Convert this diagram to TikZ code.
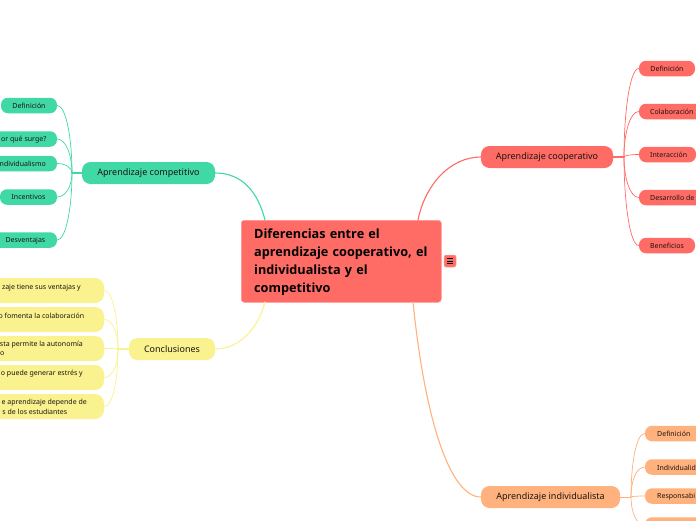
\documentclass[tikz,border=0pt]{standalone}
\usepackage{fontspec}
\usetikzlibrary{calc}
\setmainfont{Noto Sans}
\newfontfamily\titlefont{Open Sans}
\definecolor{cgreen}{HTML}{40D8A5}
\definecolor{cred}{HTML}{FF6B65}
\definecolor{corange}{HTML}{FFB27D}
\definecolor{cyellow}{HTML}{F9F28F}
\definecolor{ink}{HTML}{1C1410}
\tikzset{
  bx/.style={rounded corners=#1,inner sep=0pt,text=ink,align=center},
  bx/.default=7pt,
  mainbox/.style={bx=3pt,fill=cred,draw=cred!70!white,line width=.5pt,anchor=north west,minimum width=200pt,minimum height=82pt},
  topic/.style={bx=8.5pt,font=\fontsize{9}{11}\selectfont,minimum height=22pt},
  kid/.style={bx=7pt,font=\fontsize{7}{9}\selectfont,minimum height=15.5pt},
  longkid/.style={bx=9pt,minimum height=25pt},
  lbl/.style={inner sep=0pt,text=ink,font=\fontsize{7}{9}\selectfont},
  link/.style={line width=#1,line cap=round},
  link/.default=.7pt,
}
% colour, trunk, child anchor, horizontal offset of the end control
\newcommand{\twig}[4]{\draw[link,#1] (#2) .. controls ($(#2)!.5!(#2 |- #3)$) and ($(#3)+(#4,0)$) .. (#3);}
\begin{document}
\begin{tikzpicture}[x=1pt,y=-1pt]
\useasboundingbox (0,0) rectangle (696,520);
\clip (0,0) rectangle (696,520);
\fill[white] (0,0) rectangle (696,520);
% main
\node[mainbox] (main) at (241,220) {};
\node[inner sep=0pt,anchor=north west,align=left,text=black,font=\titlefont\fontsize{12.7}{18}\selectfont\bfseries,text width=186pt] (title) at (254,228.5) {Diferencias entre el\\aprendizaje cooperativo, el\\individualista y el\\competitivo};
\node[bx=2pt,fill=cred,draw=cred!60!white,line width=.5pt,minimum width=12pt,minimum height=12pt] (menu) at (450,261) {};
\draw[black,line width=.7pt] (446.8,258.5) -- (453.2,258.5) (446.8,261) -- (453.2,261) (446.8,263.5) -- (453.2,263.5);
% topics
\node[topic,fill=cgreen,minimum width=133pt] (comp) at (148.5,173) {\raisebox{-.7pt}{Aprendizaje competitivo}};
\node[topic,fill=cyellow,minimum width=86pt] (conc) at (172,349) {\raisebox{-.7pt}{Conclusiones}};
\node[topic,fill=cred,minimum width=132pt] (coop) at (547,157) {\raisebox{-.7pt}{Aprendizaje cooperativo}};
\node[topic,fill=corange,minimum width=139pt] (indi) at (550.5,497) {\raisebox{-.7pt}{Aprendizaje individualista}};
% trunks
\coordinate (tcomp) at (72,173);
\coordinate (tconc) at (118,349);
\coordinate (tcoop) at (624,157);
\coordinate (tindi) at (631,497);
% main links
\draw[link=1.1pt,cgreen] (comp.east) .. controls (242,173) and (258,192) .. (265,220);
\draw[link=1.1pt,cyellow] (conc.east) .. controls (240,349) and (258,328) .. (265,302);
\draw[link=1.1pt,cred] (coop.west) .. controls (450,157) and (425,185) .. (418,220);
\draw[link=1.1pt,corange] (indi.west) .. controls (450,497) and (425,420) .. (413,302);
\draw[link=1.1pt,cgreen] (comp.west) -- (tcomp);
\draw[link=1.1pt,cyellow] (conc.west) -- (tconc);
\draw[link=1.1pt,cred] (coop.east) -- (tcoop);
\draw[link,corange] (indi.east) -- (tindi);
% green kids
\node[kid,fill=cgreen,minimum width=56pt] (g1) at (29,105.5) {Definición};
\node[kid,fill=cgreen,minimum width=70pt] (g2) at (22,139) {};
\node[lbl,anchor=east] (g2t) at (46.5,139.5) {or qué surge?};
\node[kid,fill=cgreen,minimum width=70pt] (g3) at (22,163.5) {};
\node[lbl,anchor=east] (g3t) at (46,164) {ndividualismo};
\node[kid,fill=cgreen,minimum width=57pt] (g4) at (28.5,197) {Incentivos};
\node[kid,fill=cgreen,minimum width=70pt] (g5) at (22,240) {};
\node[lbl,anchor=east] (g5t) at (45.5,240.5) {Desventajas};
\foreach \k in {g1,g2,g3,g4,g5} {\twig{cgreen}{tcomp}{\k.east}{9}}
% yellow kids
\node[longkid,fill=cyellow,minimum width=124pt] (y1) at (42,290.5) {};
\node[lbl,anchor=east] (y1t) at (81,287.5) {zaje tiene sus ventajas y};
\node[longkid,fill=cyellow,minimum width=124pt] (y2) at (42,319.5) {};
\node[lbl,anchor=east] (y2t) at (84.5,316) {o fomenta la colaboración};
\node[longkid,fill=cyellow,minimum width=124pt] (y3) at (42,348.5) {};
\node[lbl,anchor=east] (y3t) at (83,345) {sta permite la autonomía};
\node[lbl,anchor=east] (y3u) at (4.5,354) {o};
\node[longkid,fill=cyellow,minimum width=124pt] (y4) at (42,377.5) {};
\node[lbl,anchor=east] (y4t) at (83,374) {o puede generar estrés y};
\node[longkid,fill=cyellow,minimum width=124pt] (y5) at (42,406.5) {};
\node[lbl,anchor=east] (y5t) at (87,403) {e aprendizaje depende de};
\node[lbl,anchor=east] (y5u) at (67.5,412) {s de los estudiantes};
\foreach \k in {y1,y2,y3,y4,y5} {\twig{cyellow}{tconc}{\k.east}{9}}
% red kids
\node[kid,fill=cred,minimum width=56pt] (r1) at (667,68.5) {Definición};
\node[kid,fill=cred,minimum width=70pt] (r2) at (674,111.5) {};
\node[lbl,anchor=west] (r2t) at (650,112) {Colaboración};
\node[kid,fill=cred,minimum width=57pt] (r3) at (667.5,154.5) {};
\node[lbl,anchor=west] (r3t) at (650,155) {Interacción};
\node[kid,fill=cred,minimum width=70pt] (r4) at (674,197.5) {};
\node[lbl,anchor=west] (r4t) at (650,198) {Desarrollo de};
\node[kid,fill=cred,minimum width=56pt] (r5) at (667,245.5) {Beneficios};
\foreach \k in {r1,r2,r3,r4,r5} {\twig{cred}{tcoop}{\k.west}{-9}}
% orange kids
\node[kid,fill=corange,minimum width=64pt] (o1) at (677,433.5) {};
\node[lbl,anchor=west] (o1t) at (657,434) {Definición};
\node[kid,fill=corange,minimum width=64pt] (o2) at (677,467) {};
\node[lbl,anchor=west] (o2t) at (657,467.5) {Individualid};
\node[kid,fill=corange,minimum width=64pt] (o3) at (677,496) {};
\node[lbl,anchor=west] (o3t) at (657,496.5) {Responsabi};
\node[kid,fill=corange,minimum width=64pt] (o4) at (677,525) {};
\foreach \k in {o1,o2,o3,o4} {\twig{corange}{tindi}{\k.west}{-9}}
\end{tikzpicture}
\end{document}
